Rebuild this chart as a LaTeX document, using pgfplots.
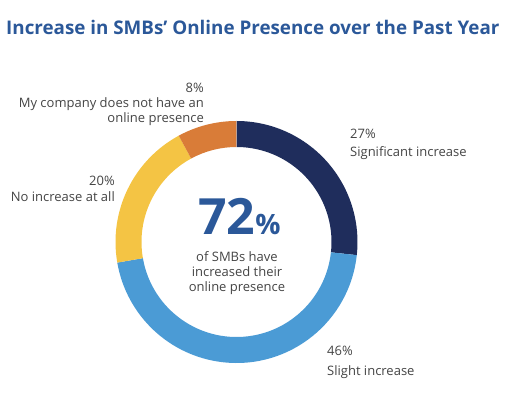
\documentclass[border=0pt]{standalone}
\usepackage{fontspec}
\setmainfont{Open Sans}
\usepackage{pgfplots}
\pgfplotsset{compat=1.18}
\definecolor{cnavy}{HTML}{1F2D5C}
\definecolor{cblue}{HTML}{4B9BD5}
\definecolor{cyellow}{HTML}{F4C444}
\definecolor{corange}{HTML}{D97C38}
\definecolor{ctitle}{HTML}{2B5899}
\definecolor{ctext}{HTML}{444444}
% shares (percent), clockwise from the top
\def\vA{27}\def\vB{46}\def\vC{20}\def\vD{8}
\pgfmathsetmacro{\tot}{\vA+\vB+\vC+\vD}
\pgfmathsetmacro{\aA}{90}
\pgfmathsetmacro{\aB}{\aA-\vA/\tot*360}
\pgfmathsetmacro{\aC}{\aB-\vB/\tot*360}
\pgfmathsetmacro{\aD}{\aC-\vC/\tot*360}
\pgfmathsetmacro{\aE}{\aD-\vD/\tot*360}
\def\cx{236.5}\def\cy{172}
\newcommand{\seg}[3]{%
  \fill[#3] ([shift={(axis cs:\cx,\cy)}]#1:121bp) arc[start angle=#1, end angle=#2, radius=121bp]
    -- ([shift={(axis cs:\cx,\cy)}]#2:95bp) arc[start angle=#2, end angle=#1, radius=95bp] -- cycle;}
\begin{document}
\begin{tikzpicture}
\begin{axis}[scale only axis, width=512bp, height=414bp,
  xmin=0, xmax=512, ymin=0, ymax=414, hide axis, clip=false]
\path (axis cs:0,0) rectangle (axis cs:512,414);
\seg{\aA}{\aB}{cnavy}
\seg{\aB}{\aC}{cblue}
\seg{\aC}{\aD}{cyellow}
\seg{\aD}{\aE}{corange}
\node[anchor=base west, inner sep=0, text=ctitle, font=\fontsize{18.8bp}{22bp}\selectfont\bfseries] at (axis cs:6,379) {Increase in SMBs’ Online Presence over the Past Year};
\begin{scope}[every node/.style={inner sep=0, text=ctext, font=\fontsize{13bp}{15bp}\selectfont}]
\node[anchor=base east] at (axis cs:204,321) {8\%};
\node[anchor=base east] at (axis cs:204,306) {My company does not have an};
\node[anchor=base east] at (axis cs:204,291) {online presence};
\node[anchor=base east] at (axis cs:115,228) {20\%};
\node[anchor=base east] at (axis cs:115,212) {No increase at all};
\node[anchor=base west] at (axis cs:350,275) {27\%};
\node[anchor=base west] at (axis cs:350,257) {Significant increase};
\node[anchor=base west] at (axis cs:327,58) {46\%};
\node[anchor=base west] at (axis cs:327,38) {Slight increase};
\node[anchor=base] at (axis cs:237,152) {of SMBs have};
\node[anchor=base] at (axis cs:237,137) {increased their};
\node[anchor=base] at (axis cs:237,122) {online presence};
\end{scope}
\node[anchor=base west, inner sep=0, text=ctitle, font=\bfseries] at (axis cs:198,179) {\fontsize{50bp}{50bp}\selectfont 72\fontsize{28bp}{28bp}\selectfont\%};
\end{axis}
\end{tikzpicture}
\end{document}
